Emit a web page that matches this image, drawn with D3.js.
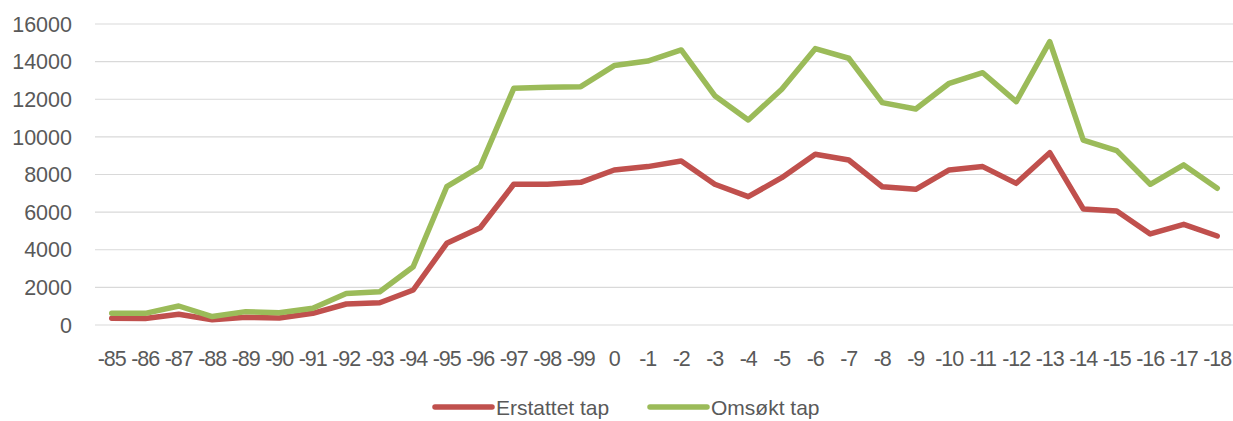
<!DOCTYPE html>
<html lang="no">
<head>
  <meta charset="UTF-8">
  <title>Erstattet og omsøkt tap</title>
  <script src="https://d3js.org/d3.v7.min.js"></script>
  <style>
    body { margin: 0; background: #fff; }
    text { font-family: "Liberation Sans", Arial, sans-serif; fill: #595959; }
  </style>
</head>
<body>
  <svg id="chart" width="1233" height="421"></svg>

  <script>
    const years = ["-85","-86","-87","-88","-89","-90","-91","-92","-93","-94","-95","-96","-97","-98","-99",
                   "0","-1","-2","-3","-4","-5","-6","-7","-8","-9","-10","-11","-12","-13","-14","-15","-16","-17","-18"];

    // Erstattet tap (rød)
    const erstattet = [355, 350, 570, 280, 410, 370, 620, 1115, 1185, 1860, 4340, 5170, 7480, 7480, 7585,
                       8240, 8420, 8720, 7480, 6820, 7830, 9080, 8770, 7350, 7210, 8240, 8420, 7530, 9160,
                       6170, 6060, 4840, 5350, 4730];

    // Omsøkt tap (grønn)
    const omsokt = [620, 620, 1010, 450, 710, 650, 890, 1680, 1770, 3100, 7350, 8420, 12580, 12640, 12670,
                    13790, 14030, 14620, 12190, 10900, 12530, 14690, 14180, 11820, 11480, 12850, 13410, 11870, 15060,
                    9830, 9270, 7480, 8510, 7270];

    const yTicks = [0, 2000, 4000, 6000, 8000, 10000, 12000, 14000, 16000];

    const series = [
      { name: "Erstattet tap", values: erstattet, color: "#c0504d" },
      { name: "Omsøkt tap", values: omsokt, color: "#9bbb59" }
    ];

    const svg = d3.select("#chart");
    const plotLeft = 95, plotRight = 1234, plotTop = 24, plotBottom = 325;

    const x = d3.scaleBand().domain(years).range([plotLeft, plotRight]).padding(0);
    const y = d3.scaleLinear().domain([0, 16000]).range([plotBottom, plotTop]);

    // gitterlinjer
    svg.append("g")
      .selectAll("line")
      .data(yTicks)
      .join("line")
      .attr("x1", plotLeft)
      .attr("x2", plotRight)
      .attr("y1", d => y(d))
      .attr("y2", d => y(d))
      .attr("stroke", "#d9d9d9")
      .attr("stroke-width", 1.2);

    // y-etiketter
    svg.append("g")
      .selectAll("text")
      .data(yTicks)
      .join("text")
      .attr("x", 72)
      .attr("y", d => y(d))
      .attr("dy", "0.36em")
      .attr("text-anchor", "end")
      .style("font-size", "21.5px")
      .text(d => d);

    // x-etiketter
    svg.append("g")
      .selectAll("text")
      .data(years)
      .join("text")
      .attr("x", d => x(d) + x.bandwidth() / 2)
      .attr("y", 358)
      .attr("dy", "0.36em")
      .attr("text-anchor", "middle")
      .style("font-size", "21.5px")
      .style("letter-spacing", "-1px")
      .text(d => d);

    const line = d3.line()
      .x((d, i) => x(years[i]) + x.bandwidth() / 2)
      .y(d => y(d));

    svg.append("g")
      .selectAll("path")
      .data(series)
      .join("path")
      .attr("d", d => line(d.values))
      .attr("fill", "none")
      .attr("stroke", d => d.color)
      .attr("stroke-width", 5.5)
      .attr("stroke-linejoin", "round")
      .attr("stroke-linecap", "round");

    // legende
    const legendX = [435, 650];
    const legend = svg.append("g")
      .selectAll("g")
      .data(series)
      .join("g")
      .attr("transform", (d, i) => `translate(${legendX[i]}, 407)`);

    legend.append("line")
      .attr("x1", 0)
      .attr("x2", 57)
      .attr("stroke", d => d.color)
      .attr("stroke-width", 5.5)
      .attr("stroke-linecap", "round");

    legend.append("text")
      .attr("x", 61)
      .attr("dy", "0.36em")
      .style("font-size", "21px")
      .text(d => d.name);
  </script>
</body>
</html>
